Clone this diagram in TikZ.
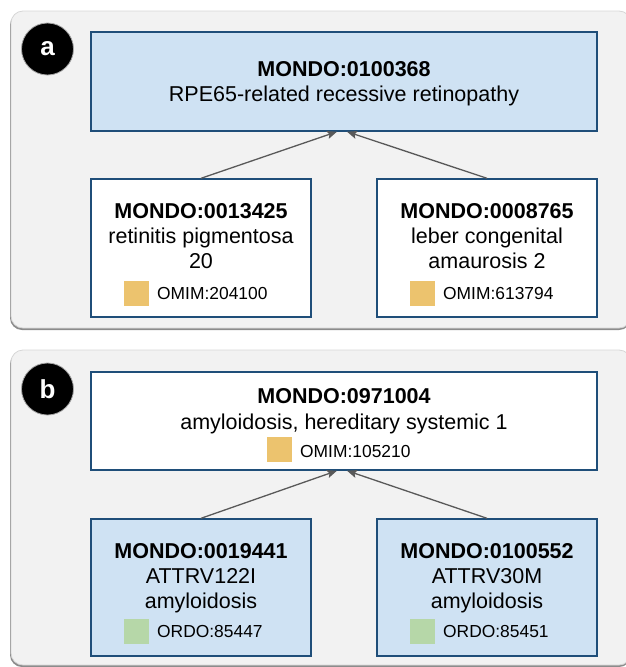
\documentclass[tikz,border=0pt]{standalone}
\usepackage{fontspec}
\setmainfont{Liberation Sans}
\usetikzlibrary{arrows.meta}
\definecolor{panelbg}{HTML}{F2F2F2}
\definecolor{panelline}{HTML}{D6D6D6}
\definecolor{panelshadow}{HTML}{8C8C8C}
\definecolor{boxblue}{HTML}{CFE2F3}
\definecolor{boxline}{HTML}{1F4E79}
\definecolor{omimc}{HTML}{ECC36E}
\definecolor{ordoc}{HTML}{B6D7A8}
\definecolor{arrowgray}{HTML}{595959}
\tikzset{
  panel/.style={fill=panelbg, draw=panelline, line width=0.8pt, rounded corners=12pt},
  panelshade/.style={fill=panelshadow, rounded corners=12pt},
  termbox/.style={draw=boxline, line width=1.4pt, inner sep=0pt, rectangle},
  bluebox/.style={termbox, fill=boxblue},
  whitebox/.style={termbox, fill=white},
  idtext/.style={anchor=base, inner sep=0pt, font=\bfseries\fontsize{21.5}{25}\selectfont},
  nametext/.style={anchor=base, inner sep=0pt, font=\fontsize{21.5}{25}\selectfont},
  xreftext/.style={anchor=base west, inner sep=0pt, font=\fontsize{17.4}{20}\selectfont},
  xsq/.style={rectangle, minimum size=25pt, inner sep=0pt},
  panellabel/.style={circle, fill=black, draw=gray!70, line width=0.8pt, minimum size=52pt, inner sep=0pt, text=white, font=\bfseries\fontsize{26}{26}\selectfont},
  isa/.style={draw=arrowgray, line width=1.3pt, -{Stealth[length=10pt,width=8pt,inset=2pt]}}
}
\begin{document}
\begin{tikzpicture}[x=1pt,y=-1pt]
\useasboundingbox (0,0) rectangle (626,667);
% panel a
\fill[panelshade] (10,13) rectangle (631,330);
\draw[panel] (11,11) rectangle (631,328);
\node[panellabel] (la) at (47.5,49) {a};
\node[bluebox, minimum width=506pt, minimum height=99pt] (pa) at (344,81.5) {};
\node[idtext] (pa-id) at (344,76) {MONDO:0100368};
\node[nametext] (pa-name) at (344,101) {RPE65-related recessive retinopathy};

\node[whitebox, minimum width=220pt, minimum height=138pt] (ca1) at (201,248) {};
\node[idtext] (ca1-id) at (201,218) {MONDO:0013425};
\node[nametext] (ca1-n1) at (201,243) {retinitis pigmentosa};
\node[nametext] (ca1-n2) at (201,268) {20};
\node[xsq, fill=omimc] (ca1-sq) at (136.5,293) {};
\node[xreftext] (ca1-x) at (157,299) {OMIM:204100};

\node[whitebox, minimum width=220pt, minimum height=138pt] (ca2) at (487,248) {};
\node[idtext] (ca2-id) at (487,218) {MONDO:0008765};
\node[nametext] (ca2-n1) at (487,243) {leber congenital};
\node[nametext] (ca2-n2) at (487,268) {amaurosis 2};
\node[xsq, fill=omimc] (ca2-sq) at (422.5,293) {};
\node[xreftext] (ca2-x) at (443,299) {OMIM:613794};

\draw[isa] (ca1.north) -- ([xshift=-7pt]pa.south);
\draw[isa] (ca2.north) -- ([xshift=3pt]pa.south);

% panel b
\fill[panelshade] (10,352) rectangle (631,667);
\draw[panel] (11,350) rectangle (631,665);
\node[panellabel] (lb) at (47.5,389) {b};
\node[whitebox, minimum width=506pt, minimum height=98pt] (pb) at (344,421) {};
\node[idtext] (pb-id) at (344,403) {MONDO:0971004};
\node[nametext] (pb-name) at (344,429) {amyloidosis, hereditary systemic 1};
\node[xsq, fill=omimc] (pb-sq) at (279.5,449.5) {};
\node[xreftext] (pb-x) at (300,457) {OMIM:105210};

\node[bluebox, minimum width=220pt, minimum height=137pt] (cb1) at (201,587.5) {};
\node[idtext] (cb1-id) at (201,558) {MONDO:0019441};
\node[nametext] (cb1-n1) at (201,583) {ATTRV122I};
\node[nametext] (cb1-n2) at (201,608) {amyloidosis};
\node[xsq, fill=ordoc] (cb1-sq) at (136.5,631) {};
\node[xreftext] (cb1-x) at (157,637) {ORDO:85447};

\node[bluebox, minimum width=220pt, minimum height=137pt] (cb2) at (487,587.5) {};
\node[idtext] (cb2-id) at (487,558) {MONDO:0100552};
\node[nametext] (cb2-n1) at (487,583) {ATTRV30M};
\node[nametext] (cb2-n2) at (487,608) {amyloidosis};
\node[xsq, fill=ordoc] (cb2-sq) at (422.5,631) {};
\node[xreftext] (cb2-x) at (443,637) {ORDO:85451};

\draw[isa] (cb1.north) -- ([xshift=-7pt]pb.south);
\draw[isa] (cb2.north) -- ([xshift=3pt]pb.south);
\end{tikzpicture}
\end{document}
